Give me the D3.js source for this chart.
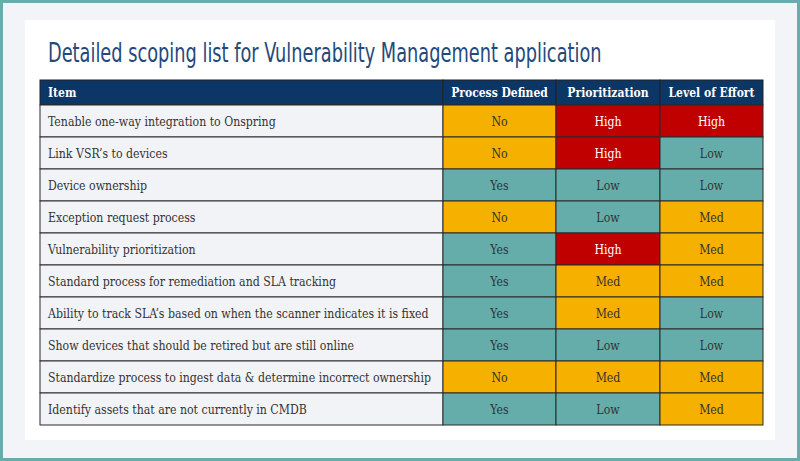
<!DOCTYPE html>
<html><head><meta charset="utf-8">
<script src="https://cdn.jsdelivr.net/npm/d3@7"></script>
<style>html,body{margin:0;padding:0;background:#f2f4f7;}svg{display:block;}</style>
</head><body>
<svg id="c" width="800" height="461"></svg>
<script>
const title = "Detailed scoping list for Vulnerability Management application";
const columns = ["Item", "Process Defined", "Prioritization", "Level of Effort"];
const items = [
  "Tenable one-way integration to Onspring",
  "Link VSR\u2019s to devices",
  "Device ownership",
  "Exception request process",
  "Vulnerability prioritization",
  "Standard process for remediation and SLA tracking",
  "Ability to track SLA\u2019s based on when the scanner indicates it is fixed",
  "Show devices that should be retired but are still online",
  "Standardize process to ingest data & determine incorrect ownership",
  "Identify assets that are not currently in CMDB"
];
const processDefined = ["No","No","Yes","No","Yes","Yes","Yes","Yes","No","Yes"];
const prioritization = ["High","High","Low","Low","High","Med","Med","Low","Med","Low"];
const levelOfEffort = ["High","Low","Low","Med","Med","Med","Low","Low","Med","Med"];

const fillMap = {No:"#f6b000", Yes:"#65adaa", High:"#c00000", Med:"#f6b000", Low:"#65adaa"};
const textMap = {High:"#ffffff"};

const svg = d3.select("#c");
// outer frame
svg.append("rect").attr("x",1.5).attr("y",1.5).attr("width",797).attr("height",458)
  .attr("fill","#f2f4f7").attr("stroke","#6aacab").attr("stroke-width",3);
svg.append("rect").attr("x",25).attr("y",20).attr("width",750).attr("height",420).attr("fill","#ffffff");

const tg = svg.append("g");
const t = tg.append("text").attr("x",0).attr("y",0).text(title)
  .attr("font-family","'DejaVu Sans Condensed','DejaVu Sans'")
  .attr("font-size",27).attr("fill","#24497a");
const tl = t.node().getComputedTextLength() || 554;
tg.attr("transform", `translate(48,62) scale(${554/tl},1)`);

const colEdges = [40, 443, 556, 660, 763];
const x = d3.scaleOrdinal().domain(columns).range(colEdges.slice(0,4));
const width = c => colEdges[columns.indexOf(c)+1] - colEdges[columns.indexOf(c)];
const headerTop = 80, headerH = 25;
const y = d3.scaleBand().domain(d3.range(items.length)).range([headerTop+headerH, 425]).padding(0);

const font = "'DejaVu Serif Condensed','DejaVu Serif',serif";

// header
const hg = svg.append("g");
columns.forEach((c,i) => {
  hg.append("rect").attr("x",x(c)).attr("y",headerTop).attr("width",width(c)).attr("height",headerH)
    .attr("fill","#0c3666").attr("stroke","#222").attr("stroke-width",1);
  hg.append("text").attr("x", i===0 ? x(c)+8 : x(c)+width(c)/2).attr("y",headerTop+headerH/2+4.5)
    .attr("text-anchor", i===0 ? "start":"middle").attr("font-family",font).attr("font-stretch","condensed")
    .attr("font-weight","bold").attr("font-size",12).attr("fill","#fff").text(c);
});

const rows = items.map((it,i)=>({i, vals:[it, processDefined[i], prioritization[i], levelOfEffort[i]]}));
const rg = svg.append("g").selectAll("g").data(rows).join("g");
rg.each(function(r){
  const g = d3.select(this);
  r.vals.forEach((v,j)=>{
    const c = columns[j];
    g.append("rect").attr("x",x(c)).attr("y",y(r.i)).attr("width",width(c)).attr("height",y.bandwidth())
      .attr("fill", j===0 ? "#f2f3f6" : fillMap[v]).attr("stroke","#2a2a2a").attr("stroke-width",1);
    g.append("text").attr("x", j===0 ? x(c)+8 : x(c)+width(c)/2).attr("y", y(r.i)+y.bandwidth()/2+4.5)
      .attr("text-anchor", j===0 ? "start":"middle").attr("font-family",font).attr("font-stretch","condensed")
      .attr("font-size",12.2).attr("fill", j===0 ? "#333" : (textMap[v]||"#333")).text(v);
  });
});
</script>
</body></html>
